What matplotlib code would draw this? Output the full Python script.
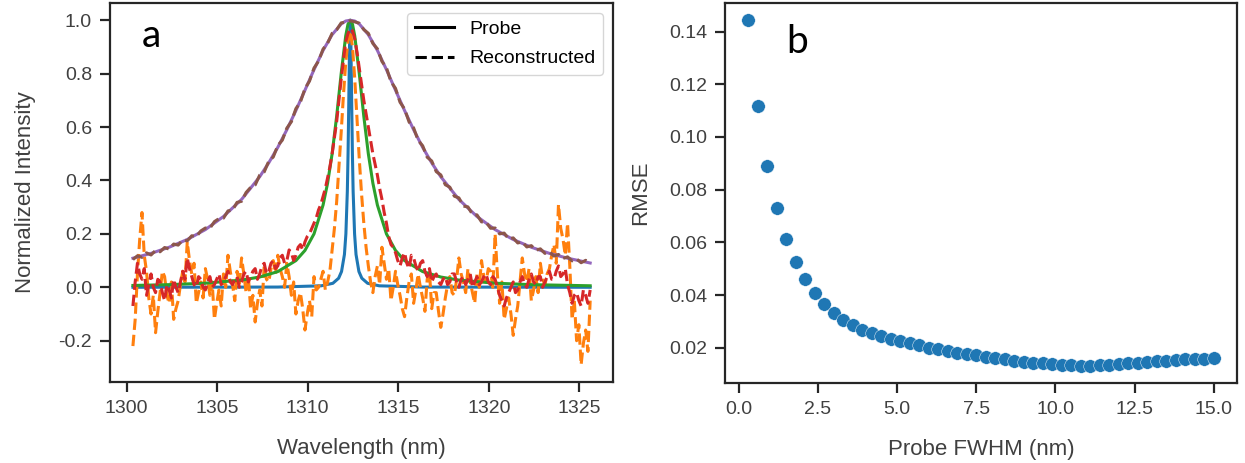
import numpy as np
import matplotlib
matplotlib.use("Agg")
import matplotlib.pyplot as plt
from matplotlib.lines import Line2D

plt.rcParams['font.family'] = ['Liberation Sans', 'DejaVu Sans']
plt.rcParams['axes.unicode_minus'] = False
plt.rcParams['axes.edgecolor'] = '0.15'
plt.rcParams['axes.linewidth'] = 1.6
plt.rcParams['xtick.color'] = '0.15'
plt.rcParams['ytick.color'] = '0.15'
plt.rcParams['xtick.labelcolor'] = '0.25'
plt.rcParams['ytick.labelcolor'] = '0.25'
plt.rcParams['axes.labelcolor'] = '0.25'
plt.rcParams['xtick.major.size'] = 7
plt.rcParams['ytick.major.size'] = 7
plt.rcParams['xtick.major.width'] = 1.6
plt.rcParams['ytick.major.width'] = 1.6
plt.rcParams['xtick.major.pad'] = 6
plt.rcParams['ytick.major.pad'] = 6

# probe spectra (solid)
probe1_wl = [1300.35, 1308.35, 1310.75, 1311.39, 1311.71, 1311.87, 1312.03, 1312.11, 1312.19,
             1312.23, 1312.27, 1312.31, 1312.35, 1312.39, 1312.43, 1312.47, 1312.51, 1312.59,
             1312.67, 1312.83, 1312.99, 1313.31, 1313.95, 1316.35, 1325.6]
probe1 = [0.0001, 0.0009, 0.0056, 0.015, 0.034, 0.059, 0.123, 0.2, 0.36, 0.5, 0.692, 0.9, 1.0,
          0.9, 0.692, 0.5, 0.36, 0.2, 0.123, 0.059, 0.034, 0.015, 0.0056, 0.0009, 0.0001]

probe2_wl = [1300.35, 1302.35, 1304.35, 1306.35, 1307.35, 1308.35, 1309.35, 1309.85, 1310.35, 1310.85,
             1311.1, 1311.35, 1311.6, 1311.85, 1312.1, 1312.225, 1312.35, 1312.475, 1312.6, 1312.85,
             1313.1, 1313.35, 1313.6, 1313.85, 1314.35, 1314.85, 1315.35, 1316.35, 1317.35, 1318.35,
             1320.35, 1322.35, 1325.6]
probe2 = [0.0069, 0.0099, 0.0154, 0.027, 0.0385, 0.0588, 0.1, 0.138, 0.2, 0.308,
          0.39, 0.5, 0.64, 0.8, 0.941, 0.985, 1.0, 0.985, 0.941, 0.8,
          0.64, 0.5, 0.39, 0.308, 0.2, 0.138, 0.1, 0.0588, 0.0385, 0.027,
          0.0154, 0.0099, 0.0057]

probe3_wl = [1300.35, 1301.35, 1302.35, 1303.35, 1304.35, 1305.35, 1306.35, 1307.35, 1307.85, 1308.35,
             1308.85, 1309.35, 1309.85, 1310.35, 1310.85, 1311.35, 1311.85, 1312.1, 1312.35, 1312.6,
             1312.85, 1313.35, 1313.85, 1314.35, 1314.85, 1315.35, 1315.85, 1316.35, 1316.85, 1317.35,
             1318.35, 1319.35, 1320.35, 1321.35, 1322.35, 1323.35, 1324.35, 1325.6]
probe3 = [0.109, 0.127, 0.150, 0.179, 0.216, 0.265, 0.329, 0.414, 0.466, 0.524,
          0.590, 0.662, 0.738, 0.815, 0.887, 0.946, 0.986, 0.997, 1.0, 0.997,
          0.986, 0.946, 0.887, 0.815, 0.738, 0.662, 0.590, 0.524, 0.466, 0.414,
          0.329, 0.265, 0.216, 0.179, 0.150, 0.127, 0.109, 0.091]

# reconstructed spectra (dashed)
fine_wl = np.linspace(1300.35, 1325.6, 203)   # every 0.125 nm
recon1 = [-0.22, -0.12, 0.05, 0.18, 0.28, 0.12, 0.06, -0.04, -0.10, -0.03,
          -0.17, -0.09, -0.02, 0.06, 0.04, -0.03, -0.06, 0.02, -0.12, -0.08,
          -0.05, 0.01, 0.06, 0.02, 0.17, 0.10, 0.05, 0.09, -0.06, -0.02,
          0.02, -0.04, 0.07, 0.03, -0.03, 0.02, -0.12, -0.06, -0.01, -0.07,
          0.05, 0.00, 0.12, 0.06, 0.01, -0.05, 0.06, 0.01, 0.11, 0.05,
          -0.02, 0.04, -0.08, -0.03, -0.13, -0.06, -0.01, -0.07, 0.08, 0.03,
          0.02, 0.07, 0.10, 0.05, 0.12, 0.07, 0.04, 0.00, 0.09, 0.04,
          -0.03, 0.02, -0.10, -0.05, -0.02, -0.08, -0.16, -0.10, -0.05, -0.11,
          0.04, -0.01, 0.00, 0.03, 0.06, -0.01, 0.02, 0.06, 0.14, 0.22,
          0.32, 0.45, 0.58, 0.72, 0.84, 0.92, 0.96, 0.90, 0.78, 0.63,
          0.48, 0.35, 0.24, 0.15, 0.08, 0.02, -0.02, 0.04, 0.08, 0.01,
          0.15, 0.09, 0.03, 0.07, -0.05, 0.00, 0.06, 0.01, -0.03, -0.08,
          -0.11, -0.04, 0.02, 0.05, -0.06, -0.01, 0.05, 0.00, -0.04, -0.09,
          0.03, 0.06, -0.08, -0.02, -0.02, -0.09, -0.15, -0.10, -0.04, 0.01,
          0.04, -0.02, -0.03, 0.03, 0.11, 0.05, 0.02, -0.02, 0.07, 0.02,
          -0.02, -0.06, 0.05, 0.00, 0.10, 0.04, 0.02, 0.07, 0.06, 0.00,
          0.20, 0.05, -0.06, 0.02, -0.12, -0.08, -0.04, -0.10, -0.18, -0.12,
          -0.07, 0.02, 0.11, 0.05, 0.02, 0.07, -0.05, -0.01, 0.04, -0.02,
          0.09, 0.03, 0.01, 0.05, 0.07, 0.12, 0.16, 0.09, 0.31, 0.22,
          0.18, 0.12, 0.24, 0.08, -0.12, -0.05, -0.20, -0.14, -0.29, -0.21,
          -0.16, -0.24, -0.05]
recon2 = [-0.07, 0.02, 0.09, 0.05, 0.03, 0.07, -0.03, 0.01, 0.05, 0.00,
          -0.02, 0.03, 0.02, -0.02, -0.05, 0.01, -0.01, -0.04, 0.03, 0.00,
          -0.02, 0.02, 0.06, 0.03, 0.11, 0.07, 0.04, 0.01, 0.00, 0.04,
          0.03, 0.00, -0.01, 0.02, 0.04, 0.00, 0.01, 0.03, 0.05, 0.01,
          0.02, 0.04, 0.06, 0.02, 0.01, 0.03, 0.04, 0.00, 0.02, 0.05,
          0.06, 0.02, 0.04, 0.06, 0.07, 0.03, 0.05, 0.08, 0.09, 0.05,
          0.06, 0.09, 0.10, 0.07, 0.08, 0.11, 0.12, 0.09, 0.10, 0.14,
          0.13, 0.10, 0.12, 0.15, 0.16, 0.14, 0.17, 0.19, 0.20, 0.22,
          0.24, 0.26, 0.29, 0.31, 0.34, 0.37, 0.41, 0.45, 0.50, 0.56,
          0.62, 0.70, 0.78, 0.85, 0.92, 0.95, 0.97, 0.96, 0.93, 0.88,
          0.82, 0.76, 0.70, 0.65, 0.60, 0.55, 0.50, 0.46, 0.42, 0.37,
          0.33, 0.28, 0.24, 0.19, 0.16, 0.15, 0.13, 0.10, 0.08, 0.11,
          0.13, 0.09, 0.07, 0.12, 0.11, 0.08, 0.06, 0.09, 0.10, 0.06,
          0.04, 0.07, 0.02, 0.04, 0.05, 0.02, 0.01, 0.03, 0.04, 0.01,
          0.02, 0.05, 0.05, 0.02, 0.00, 0.03, 0.04, 0.01, 0.03, 0.05,
          0.00, 0.02, 0.04, 0.01, 0.02, 0.04, 0.05, 0.02, 0.01, 0.04,
          0.03, 0.00, -0.03, -0.05, -0.07, -0.04, -0.02, 0.00, 0.02, -0.02,
          -0.01, 0.02, 0.04, 0.01, 0.00, 0.03, 0.05, 0.02, 0.01, 0.04,
          0.04, 0.00, 0.02, 0.04, 0.06, 0.03, 0.03, 0.06, 0.08, 0.04,
          0.05, 0.07, 0.01, -0.02, -0.06, -0.03, -0.02, -0.05, -0.07, -0.01,
          -0.03, -0.06, -0.01]

coarse_wl = np.linspace(1300.35, 1325.6, 102)   # every 0.25 nm
recon3 = [0.104, 0.118, 0.112, 0.129, 0.121, 0.138, 0.133, 0.149, 0.143, 0.162,
          0.158, 0.177, 0.174, 0.193, 0.190, 0.211, 0.222, 0.221, 0.246, 0.257,
          0.259, 0.286, 0.289, 0.318, 0.322, 0.355, 0.374, 0.383, 0.420, 0.432,
          0.472, 0.488, 0.531, 0.551, 0.596, 0.620, 0.669, 0.694, 0.744, 0.772,
          0.821, 0.847, 0.892, 0.914, 0.951, 0.964, 0.990, 0.993, 0.998, 0.994,
          0.989, 0.965, 0.951, 0.913, 0.893, 0.846, 0.822, 0.770, 0.745, 0.693,
          0.668, 0.619, 0.597, 0.550, 0.530, 0.487, 0.473, 0.433, 0.421, 0.384,
          0.375, 0.341, 0.335, 0.304, 0.301, 0.273, 0.271, 0.245, 0.244, 0.221,
          0.222, 0.200, 0.203, 0.181, 0.185, 0.166, 0.170, 0.151, 0.156, 0.139,
          0.144, 0.127, 0.133, 0.117, 0.123, 0.108, 0.114, 0.099, 0.106, 0.092,
          0.101, 0.094]

# panel b
fwhm = np.linspace(0.3, 15.0, 50)
rmse = [0.1443, 0.1119, 0.0890, 0.0732, 0.0612, 0.0527, 0.0462, 0.0407, 0.0365, 0.0333,
        0.0304, 0.0286, 0.0267, 0.0255, 0.0244, 0.0233, 0.0225, 0.0217, 0.0209, 0.0200,
        0.0194, 0.0187, 0.0181, 0.0176, 0.0171, 0.0166, 0.0161, 0.0156, 0.0151, 0.0147,
        0.0143, 0.0141, 0.0137, 0.0134, 0.0133, 0.0132, 0.0132, 0.0133, 0.0136, 0.0138,
        0.0141, 0.0143, 0.0146, 0.0148, 0.0151, 0.0153, 0.0156, 0.0157, 0.0158, 0.0161]

fig = plt.figure(figsize=(12.45, 4.63), dpi=100)
ax1 = fig.add_axes([0.0884, 0.175, 0.404, 0.8185])
ax2 = fig.add_axes([0.5823, 0.173, 0.4113, 0.8205])

lw = 2.2
ax1.plot(probe1_wl, probe1, color='C0', lw=lw)
ax1.plot(fine_wl, recon1, color='C1', lw=lw, ls='--')
ax1.plot(probe2_wl, probe2, color='C2', lw=lw)
ax1.plot(fine_wl, recon2, color='C3', lw=lw, ls='--')
ax1.plot(probe3_wl, probe3, color='C4', lw=lw)
ax1.plot(coarse_wl, recon3, color='C5', lw=lw, ls='--')

ax1.set_xticks([1300, 1305, 1310, 1315, 1320, 1325])
ax1.set_yticks([-0.2, 0.0, 0.2, 0.4, 0.6, 0.8, 1.0])
ax1.tick_params(labelsize=14)
ax1.set_xlabel('Wavelength (nm)', fontsize=16, labelpad=15)
ax1.set_ylabel('Normalized Intensity', fontsize=16, labelpad=16)
handles = [Line2D([], [], color='k', lw=lw), Line2D([], [], color='k', lw=lw, ls='--')]
ax1.legend(handles, ['Probe', 'Reconstructed'], loc='upper right', fontsize=14,
           edgecolor='0.8', framealpha=0.8, labelspacing=0.6)
ax1.text(0.064, 0.885, 'a', transform=ax1.transAxes, fontsize=28, family=['Lato', 'DejaVu Sans'])

ax2.scatter(fwhm, rmse, s=95, color='C0', edgecolors='white', linewidths=0.3)
ax2.set_xticks([0.0, 2.5, 5.0, 7.5, 10.0, 12.5, 15.0])
ax2.set_yticks([0.02, 0.04, 0.06, 0.08, 0.10, 0.12, 0.14])
ax2.tick_params(labelsize=14)
ax2.set_xlabel('Probe FWHM (nm)', fontsize=16, labelpad=15)
ax2.set_ylabel('RMSE', fontsize=16, labelpad=13)
ax2.text(0.119, 0.868, 'b', transform=ax2.transAxes, fontsize=28, family=['Lato', 'DejaVu Sans'])

fig.savefig('out.png', dpi=100)
